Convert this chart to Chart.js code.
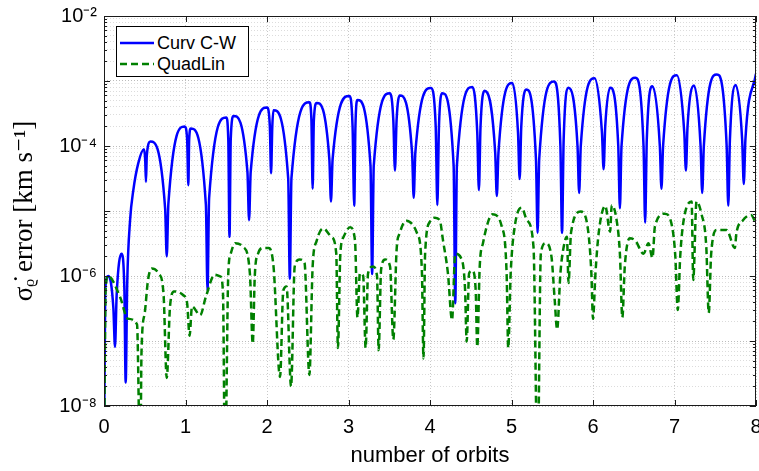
<!DOCTYPE html>
<html>
<head>
<meta charset="utf-8">
<script src="https://cdn.jsdelivr.net/npm/chart.js@4.4.1/dist/chart.umd.min.js"></script>
<style>
  html, body { margin: 0; padding: 0; background: #fff; }
  #wrap { position: relative; width: 759px; height: 471px; }
  #legend {
    position: absolute; left: 116px; top: 26px; width: 131px; height: 49px;
    border: 1px solid #000; background: #fff;
    font: 18px "Liberation Sans", Arial, sans-serif; color: #000;
  }
  .row { position: absolute; left: 0; height: 22px; display: flex; align-items: center; white-space: nowrap; }
  .row svg { display: block; }
</style>
</head>
<body>
<div id="wrap">
  <canvas id="myChart" width="759" height="471"></canvas>
  <div id="legend"></div>
</div>
<script>
// axis ticks / labels
const orbitTicks = [0, 1, 2, 3, 4, 5, 6, 7, 8];
const decadeExps = [-8, -7, -6, -5, -4, -3];
const minorSteps = [1, 2, 3, 4, 5, 6, 7, 8, 9];
const labelValues = [1e-8, 1e-6, 1e-4, 1e-2];
const labelTexts = ["10⁻⁸", "10⁻⁶", "10⁻⁴", "10⁻²"];
const legendLabels = ["Curv C-W", "QuadLin"];

// Curv C-W error (orbits, km/s)
const curvX = [
  0, 0.015, 0.055, 0.115, 0.135, 0.155, 0.215, 0.25, 0.266, 0.285,
  0.32, 0.36, 0.42, 0.49, 0.505, 0.515, 0.525, 0.57, 0.75, 0.77,
  0.79, 0.99, 1.02, 1.035, 1.045, 1.065, 1.25, 1.27, 1.29, 1.5,
  1.525, 1.54, 1.555, 1.59, 1.76, 1.78, 1.8, 2.0, 2.035, 2.05,
  2.065, 2.08, 2.26, 2.28, 2.3, 2.52, 2.545, 2.56, 2.575, 2.61,
  2.765, 2.785, 2.805, 3.01, 3.05, 3.07, 3.085, 3.11, 3.27, 3.29,
  3.31, 3.51, 3.55, 3.57, 3.59, 3.63, 3.78, 3.8, 3.82, 4.01,
  4.07, 4.09, 4.11, 4.15, 4.29, 4.31, 4.33, 4.52, 4.58, 4.6,
  4.62, 4.67, 4.8, 4.82, 4.84, 5.01, 5.08, 5.1, 5.12, 5.18,
  5.3, 5.32, 5.34, 5.52, 5.6, 5.62, 5.64, 5.7, 5.81, 5.83,
  5.85, 6.02, 6.11, 6.13, 6.15, 6.21, 6.31, 6.33, 6.35, 6.52,
  6.62, 6.64, 6.66, 6.73, 6.82, 6.84, 6.86, 7.03, 7.12, 7.14,
  7.16, 7.24, 7.32, 7.34, 7.36, 7.52, 7.64, 7.66, 7.68, 7.75,
  7.83, 7.85, 7.87, 8.0
];
const curvY = [
  1e-9, 6.3e-7, 1.0e-6, 3.2e-7, 8.1e-8, 5.0e-7, 2.2e-6, 6.3e-7, 2.3e-8, 7.9e-7,
  7.2e-6, 2.1e-5, 5.4e-5, 8.9e-5, 6.3e-5, 2.8e-5, 7.1e-5, 1.17e-4, 1.1e-5, 2.0e-6,
  1.3e-5, 2.0e-4, 1.26e-4, 2.5e-5, 1.26e-4, 1.86e-4, 1.26e-5, 6.0e-7, 1.6e-5, 2.75e-4,
  1.26e-4, 4.0e-6, 1.26e-4, 2.9e-4, 4.0e-5, 7.2e-6, 4.0e-5, 3.9e-4, 2.0e-4, 3.8e-5,
  2.0e-4, 3.55e-4, 3.2e-5, 9.1e-7, 3.2e-5, 4.7e-4, 2.5e-4, 2.2e-5, 2.5e-4, 4.6e-4,
  6.3e-5, 1.4e-5, 6.3e-5, 5.9e-4, 2.0e-4, 1.2e-5, 2.0e-4, 5.1e-4, 5.0e-5, 1.07e-6,
  5.0e-5, 6.5e-4, 2.5e-4, 4.2e-5, 2.5e-4, 6.0e-4, 7.9e-5, 1.6e-5, 7.9e-5, 7.8e-4,
  2.0e-4, 1.23e-5, 2.0e-4, 6.5e-4, 5.0e-5, 3.8e-7, 5.0e-5, 8.1e-4, 1.6e-4, 2.1e-5,
  2.0e-4, 7.1e-4, 7.9e-5, 1.7e-5, 7.9e-5, 9.3e-4, 1.6e-4, 3.1e-5, 2.0e-4, 7.4e-4,
  6.3e-5, 4.6e-6, 6.3e-5, 9.8e-4, 1.0e-4, 4.6e-6, 1.26e-4, 7.9e-4, 1.0e-4, 1.9e-5,
  1.0e-4, 1.1e-3, 1.6e-4, 4.4e-5, 2.0e-4, 7.9e-4, 1.0e-4, 1.1e-5, 1.0e-4, 1.12e-3,
  1.0e-4, 6.6e-6, 1.26e-4, 8.3e-4, 1.0e-4, 2.2e-5, 1.0e-4, 1.23e-3, 1.6e-4, 4.2e-5,
  2.0e-4, 8.5e-4, 1.0e-4, 1.9e-5, 1.0e-4, 1.26e-3, 1.0e-4, 1.2e-5, 1.26e-4, 8.7e-4,
  1.26e-4, 2.6e-5, 1.26e-4, 1.3e-3
];

// QuadLin error
const quadX = [
  0, 0.02, 0.05, 0.196, 0.294, 0.405, 0.445, 0.46, 0.5, 0.54,
  0.585, 0.67, 0.73, 0.77, 0.81, 0.86, 0.97, 1.02, 1.05, 1.08,
  1.18, 1.25, 1.36, 1.43, 1.46, 1.485, 1.525, 1.555, 1.61, 1.71,
  1.79, 1.825, 1.85, 1.89, 1.955, 2.02, 2.08, 2.16, 2.2, 2.24,
  2.295, 2.34, 2.4, 2.46, 2.52, 2.56, 2.61, 2.69, 2.79, 2.85,
  2.87, 2.9, 2.94, 3.02, 3.08, 3.11, 3.14, 3.18, 3.21, 3.24,
  3.3, 3.35, 3.37, 3.4, 3.45, 3.51, 3.55, 3.59, 3.63, 3.71,
  3.84, 3.9, 3.92, 3.94, 4.0, 4.06, 4.12, 4.16, 4.22, 4.27,
  4.31, 4.38, 4.43, 4.45, 4.48, 4.52, 4.56, 4.58, 4.61, 4.65,
  4.77, 4.88, 4.94, 4.96, 4.99, 5.04, 5.125, 5.19, 5.27, 5.32,
  5.36, 5.42, 5.49, 5.53, 5.56, 5.6, 5.64, 5.68, 5.7, 5.73,
  5.85, 5.94, 5.98, 6.0, 6.03, 6.07, 6.15, 6.21, 6.23, 6.29,
  6.33, 6.36, 6.39, 6.45, 6.52, 6.62, 6.68, 6.73, 6.76, 6.88,
  6.97, 7.01, 7.04, 7.07, 7.11, 7.21, 7.23, 7.27, 7.33, 7.39,
  7.42, 7.45, 7.52, 7.64, 7.74, 7.76, 7.84, 7.94, 8.0
];
const quadY = [
  1e-9, 6.3e-7, 1.0e-6, 4.8e-7, 2.2e-7, 1.8e-7, 1e-9, 6.6e-8, 2.7e-7, 8.7e-7,
  1.3e-6, 1.1e-6, 5.4e-7, 2.7e-8, 3.4e-7, 5.8e-7, 5.1e-7, 3.8e-7, 1.2e-7, 3.4e-7,
  2.5e-7, 4.8e-7, 1.05e-6, 9.8e-7, 5.4e-7, 1e-9, 1.1e-6, 2.2e-6, 3.2e-6, 2.8e-6,
  1.1e-6, 9.1e-8, 1.0e-6, 2.2e-6, 2.7e-6, 2.7e-6, 1.4e-6, 2.8e-8, 6.0e-7, 6.9e-7,
  2.0e-8, 1.4e-6, 1.8e-6, 1.6e-6, 3.0e-8, 1.4e-6, 3.5e-6, 5.4e-6, 4.0e-6, 2.2e-6,
  7.8e-8, 2.2e-6, 4.0e-6, 5.6e-6, 3.5e-6, 2.3e-7, 1.1e-6, 1.0e-6, 7.8e-8, 1.1e-6,
  1.4e-6, 1.0e-6, 7.2e-8, 1.26e-6, 1.8e-6, 1.4e-6, 1.05e-7, 2.5e-6, 4.6e-6, 7.1e-6,
  4.6e-6, 1.26e-6, 5.4e-8, 2.2e-6, 6.9e-6, 7.9e-6, 7.2e-6, 3.5e-6, 1.1e-6, 2.1e-7,
  2.2e-6, 1.9e-6, 6.3e-7, 9.8e-8, 1.1e-6, 1.2e-6, 6.3e-7, 8.1e-8, 1.4e-6, 3.2e-6,
  8.9e-6, 5.8e-6, 1.1e-6, 7.8e-8, 1.1e-6, 5.8e-6, 1.12e-5, 7.2e-6, 2.8e-6, 1e-9,
  2.2e-6, 3.2e-6, 2.0e-6, 4.3e-7, 1.5e-7, 1.1e-6, 2.8e-6, 4.0e-6, 7.8e-7, 4.6e-6,
  9.8e-6, 5.0e-6, 1.1e-6, 2.2e-7, 1.1e-6, 4.6e-6, 1.2e-5, 4.8e-6, 1.23e-5, 7.2e-6,
  2.2e-6, 2.3e-7, 1.4e-6, 3.8e-6, 3.5e-6, 2.2e-6, 3.2e-6, 1.9e-6, 5.8e-6, 9.1e-6,
  5.8e-6, 2.0e-6, 3.0e-7, 2.0e-6, 6.9e-6, 1.4e-5, 8.7e-7, 1.4e-5, 9.1e-6, 2.8e-6,
  2.7e-7, 2.2e-6, 5.1e-6, 5.1e-6, 2.7e-6, 4.6e-6, 7.2e-6, 8.7e-6, 6.3e-6
];

const BLUE = "#0000ff";
const GREEN = "#008000";
const SANS = '"Liberation Sans", Arial, sans-serif';

// y tick positions: 1..9 x 10^k plus the top decade
const yTickValues = [];
decadeExps.forEach((e) => {
  minorSteps.forEach((s) => yTickValues.push(Number((s * Math.pow(10, e)).toPrecision(3))));
});
yTickValues.push(1e-2);

function isDecade(v) {
  const e = Math.round(Math.log10(v));
  return Math.abs(v - Math.pow(10, e)) / v < 1e-6;
}

// MATLAB style box with inward ticks
const boxPlugin = {
  id: "box",
  afterDraw(chart) {
    const { ctx, chartArea: a, scales } = chart;
    ctx.save();
    ctx.strokeStyle = "#1a1a1a";
    ctx.lineWidth = 1;
    ctx.beginPath();
    scales.x.ticks.forEach((t) => {
      const px = Math.round(scales.x.getPixelForValue(t.value)) + 0.5;
      ctx.moveTo(px, a.bottom); ctx.lineTo(px, a.bottom - 6);
      ctx.moveTo(px, a.top); ctx.lineTo(px, a.top + 6);
    });
    scales.y.ticks.forEach((t) => {
      const py = Math.round(scales.y.getPixelForValue(t.value)) + 0.5;
      const len = isDecade(t.value) ? 6 : 3;
      ctx.moveTo(a.left, py); ctx.lineTo(a.left + len, py);
      ctx.moveTo(a.right, py); ctx.lineTo(a.right - len, py);
    });
    ctx.stroke();
    ctx.strokeRect(a.left + 0.5, a.top + 0.5, a.right - a.left - 1, a.bottom - a.top - 1);
    ctx.restore();
  },
};

const chart = new Chart(document.getElementById("myChart"), {
  type: "line",
  data: {
    datasets: [
      {
        label: legendLabels[0],
        data: curvX.map((x, i) => ({ x: x, y: curvY[i] })),
        borderColor: BLUE,
        borderWidth: 2.5,
        pointRadius: 0,
        cubicInterpolationMode: "monotone",
        capBezierPoints: false,
        fill: false,
        order: 1,
      },
      {
        label: legendLabels[1],
        data: quadX.map((x, i) => ({ x: x, y: quadY[i] })),
        borderColor: GREEN,
        borderWidth: 2.5,
        borderDash: [7, 4],
        pointRadius: 0,
        cubicInterpolationMode: "monotone",
        capBezierPoints: false,
        fill: false,
        order: 0,
      },
    ],
  },
  options: {
    responsive: false,
    animation: false,
    devicePixelRatio: 1,
    layout: { padding: { left: 0, right: 3, top: 16, bottom: 0 } },
    plugins: { legend: { display: false }, tooltip: { enabled: false } },
    scales: {
      x: {
        type: "linear",
        min: 0,
        max: 8,
        afterBuildTicks: (s) => { s.ticks = orbitTicks.map((v) => ({ value: v })); },
        afterFit: (s) => { s.height = 65; s.paddingLeft = 0; s.paddingRight = 0; },
        ticks: { autoSkip: false, maxRotation: 0, padding: 9, color: "#000", font: { family: SANS, size: 20 } },
        grid: { drawTicks: false, color: "#c8c8c8", lineWidth: 1 },
        border: { display: false, dash: [1, 2] },
        title: {
          display: true,
          text: "number of orbits",
          color: "#000",
          font: { family: SANS, size: 22 },
          padding: { top: 0, bottom: 2 },
        },
      },
      y: {
        type: "logarithmic",
        min: 1e-8,
        max: 1e-2,
        afterBuildTicks: (s) => { s.ticks = yTickValues.map((v) => ({ value: v })); },
        afterFit: (s) => { s.width = 104; s.paddingTop = 0; s.paddingBottom = 0; },
        ticks: {
          autoSkip: false,
          padding: 7,
          color: "#000",
          font: { family: SANS, size: 20 },
          callback: (v) => {
            const i = labelValues.findIndex((l) => Math.abs(l - v) / l < 1e-6);
            return i >= 0 ? labelTexts[i] : "";
          },
        },
        grid: {
          drawTicks: false,
          lineWidth: 1,
          color: (c) => (c.tick && isDecade(c.tick.value) ? "#bcbcbc" : "#dcdcdc"),
        },
        border: { display: false, dash: [1, 2] },
        title: {
          display: true,
          text: "σᵨ̇ error [km s⁻¹]",
          color: "#000",
          font: { family: '"Liberation Serif", "DejaVu Serif", serif', size: 27 },
          padding: { top: 9, bottom: 0 },
        },
      },
    },
  },
  plugins: [boxPlugin],
});

// legend box inside the axes, top-left
const legendEl = document.getElementById("legend");
[
  { text: legendLabels[0], color: BLUE, dash: "" },
  { text: legendLabels[1], color: GREEN, dash: "7 4" },
].forEach((item, i) => {
  const row = document.createElement("div");
  row.className = "row";
  row.style.top = (5 + i * 21) + "px";
  row.innerHTML =
    '<svg width="40" height="22"><line x1="3" y1="11" x2="37" y2="11" stroke="' + item.color +
    '" stroke-width="2.5"' + (item.dash ? ' stroke-dasharray="' + item.dash + '"' : "") + '/></svg>' +
    "<span>" + item.text + "</span>";
  legendEl.appendChild(row);
});
</script>
</body>
</html>
